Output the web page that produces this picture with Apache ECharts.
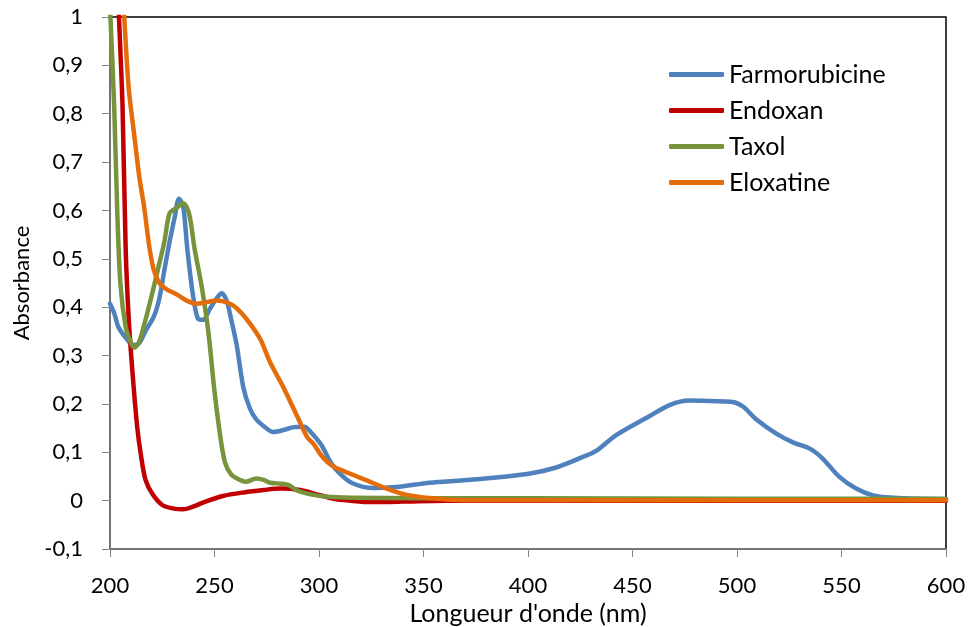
<!DOCTYPE html>
<html><head><meta charset="utf-8">
<script src="https://cdn.jsdelivr.net/npm/echarts@6/dist/echarts.min.js"></script>
<style>html,body{margin:0;padding:0;background:#fff}#c{width:968px;height:627px}</style>
</head><body><div id="c"></div>
<script>
const seriesNames = ['Farmorubicine', 'Endoxan', 'Taxol', 'Eloxatine'];
const xTicks = [200, 250, 300, 350, 400, 450, 500, 550, 600];

const farmoNm = [200,202,204,207.5,211,214,217,221,223.6,226,228.5,231,233,235,237,239.7,242,244.5,247.7,251,253.4,255.8,258,260.6,263.8,267,270,275,278,283,288,293,296,301,305.6,310,316,326,337,353,369,385,401,413,426,433,442,457,468,477,487,498,503,509,519,527,535,541,549,557,565,575,586,600];
const farmoAbs = [0.407,0.388,0.359,0.337,0.322,0.326,0.351,0.381,0.418,0.476,0.535,0.587,0.624,0.609,0.52,0.425,0.377,0.374,0.396,0.418,0.429,0.414,0.374,0.322,0.234,0.19,0.168,0.149,0.142,0.146,0.152,0.153,0.142,0.116,0.079,0.056,0.036,0.026,0.028,0.037,0.042,0.048,0.056,0.068,0.090,0.104,0.135,0.172,0.198,0.207,0.206,0.204,0.194,0.169,0.138,0.12,0.107,0.087,0.049,0.025,0.011,0.006,0.004,0.003];

const endoNm = [200,203,204.3,206,207.5,209,210.8,213,214.8,217,220.4,225,230,235,239.7,246,254,264,273.5,281.5,291,299,307,315,325,340,360,400,500,600];
const endoAbs = [1.6,1.15,1.0,0.815,0.52,0.373,0.263,0.153,0.094,0.043,0.013,-0.009,-0.016,-0.018,-0.0125,-0.0015,0.0096,0.017,0.022,0.025,0.022,0.013,0.004,0,-0.003,-0.002,0,0,0,0];

const taxolNm = [200,202,203.5,205,207.5,210,211.6,214,217,219.6,222.8,226,228.5,231.7,235,237.8,240.5,243.7,247,250,252.6,255,258,262,265,270,273.5,276.7,282,285.5,289.5,296,304,315,350,400,500,600];
const taxolAbs = [1.02,0.815,0.594,0.447,0.359,0.326,0.316,0.329,0.374,0.418,0.476,0.535,0.594,0.605,0.615,0.594,0.52,0.447,0.351,0.226,0.138,0.079,0.054,0.043,0.039,0.046,0.043,0.037,0.035,0.032,0.021,0.013,0.008,0.006,0.005,0.005,0.004,0.004];

const eloxNm = [200,204,206.8,209,211.6,214,216.4,218.8,221,223.6,226.8,232.5,236.5,241.3,246,251,257.4,262,267,272,276.7,283,289.5,294.4,297.3,301,304,308,313,322.8,332.4,342,353,369,400,500,600];
const eloxAbs = [1.6,1.2,1.0,0.851,0.756,0.67,0.605,0.525,0.476,0.45,0.438,0.425,0.414,0.407,0.41,0.414,0.407,0.392,0.366,0.333,0.285,0.234,0.175,0.131,0.118,0.094,0.080,0.068,0.059,0.042,0.025,0.012,0.0055,0.001,0.001,0.001,0.001];

const colors = ['#4F81BD', '#C00000', '#77933C', '#E46C0A'];
const pairs = (xs, ys) => xs.map((x, i) => [x, ys[i]]);
const allData = [pairs(farmoNm, farmoAbs), pairs(endoNm, endoAbs), pairs(taxolNm, taxolAbs), pairs(eloxNm, eloxAbs)];

const font = 'Lato, "Open Sans", sans-serif';
const chart = echarts.init(document.getElementById('c'), null, {renderer: 'canvas'});
chart.setOption({
  animation: false,
  backgroundColor: '#fff',
  color: colors,
  grid: {left: 110, right: 22, top: 17, bottom: 78, show: true, borderColor: '#000', borderWidth: 1.5,
    backgroundColor: 'transparent', containLabel: false, outerBoundsMode: 'none'},
  legend: {
    orient: 'vertical', left: 664, top: 57, itemGap: 11,
    itemWidth: 55, itemHeight: 5, icon: 'roundRect',
    textStyle: {fontFamily: font, fontSize: 25, color: '#000'},
    data: seriesNames
  },
  xAxis: {
    type: 'value', min: 200, max: 600, interval: 50,
    name: "Longueur d'onde (nm)", nameLocation: 'middle', nameGap: 52,
    nameTextStyle: {fontFamily: font, fontSize: 25, color: '#000'},
    axisLine: {onZero: false, lineStyle: {color: '#868686', width: 1.5}},
    axisTick: {show: true, length: 8, lineStyle: {color: '#868686'}},
    axisLabel: {fontFamily: font, fontSize: 22, color: '#000', margin: 26,
      formatter: v => xTicks.includes(v) ? String(v) : ''},
    splitLine: {show: false}
  },
  yAxis: {
    type: 'value', min: -0.1, max: 1, interval: 0.1,
    name: 'Absorbance', nameLocation: 'middle', nameGap: 77, nameRotate: 90,
    nameTextStyle: {fontFamily: font, fontSize: 22, color: '#000'},
    axisLine: {show: true, lineStyle: {color: '#868686', width: 1.5}},
    axisTick: {show: true, length: 8, lineStyle: {color: '#868686'}},
    axisLabel: {fontFamily: font, fontSize: 22, color: '#000', margin: 27,
      formatter: v => String(Math.round(v * 10) / 10).replace('.', ',')},
    splitLine: {show: false}
  },
  series: seriesNames.map((n, i) => ({
    name: n, type: 'line', data: allData[i], showSymbol: false, symbol: 'none',
    smooth: 0.3, clip: true,
    lineStyle: {width: 4.5, color: colors[i], cap: 'round', join: 'round'},
    itemStyle: {color: colors[i]}
  }))
});
</script></body></html>
